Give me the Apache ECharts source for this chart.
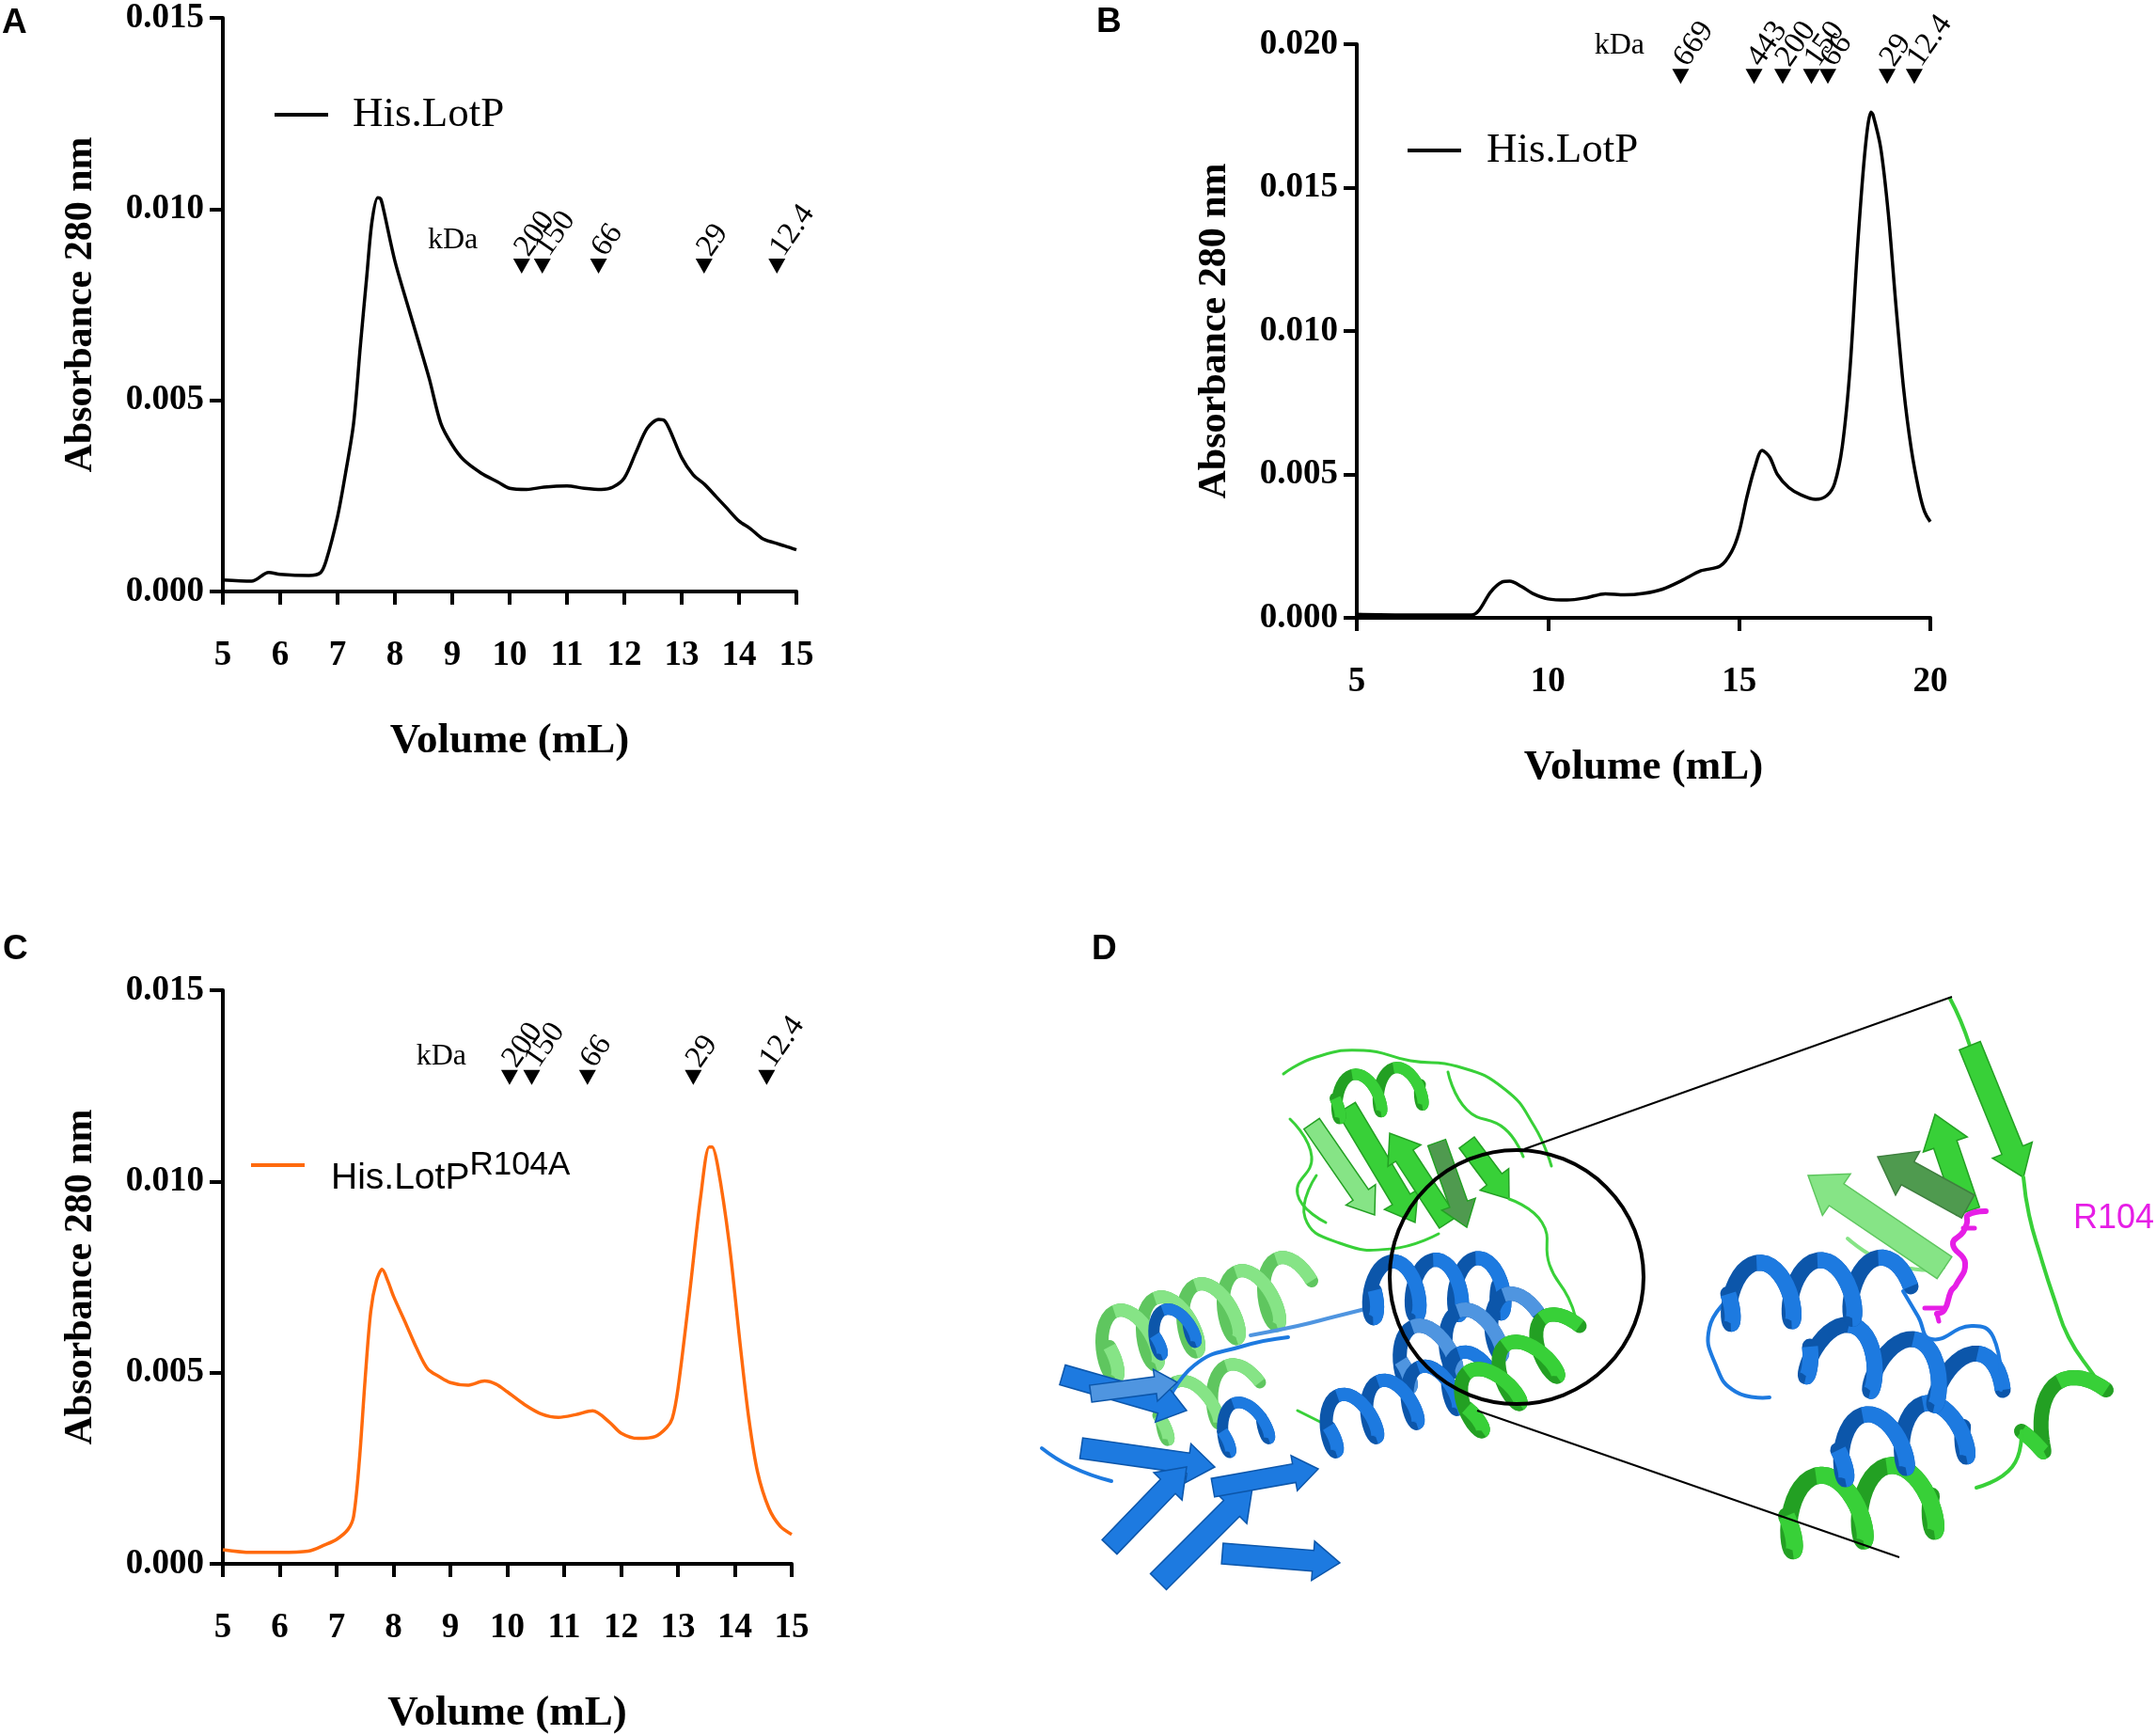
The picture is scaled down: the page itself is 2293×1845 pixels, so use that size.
<!DOCTYPE html>
<html>
<head>
<meta charset="utf-8">
<script src="https://cdn.jsdelivr.net/npm/echarts/dist/echarts.min.js"></script>
<style>
html,body{margin:0;padding:0;background:#fff;}
#container{width:2293px;height:1845px;}
</style>
</head>
<body>
<div id="container"></div>
<script>
// ---- panel A : His.LotP, column 1 ----
var volA = [5.0,5.5,5.8,6.0,6.5,6.7,6.8,7.0,7.14,7.28,7.4,7.51,7.6,7.7,7.75,7.8,8.0,8.2,8.4,8.6,8.8,9.0,9.2,9.5,9.8,10.0,10.3,10.6,11.0,11.3,11.6,11.8,12.0,12.2,12.4,12.6,12.7,12.8,13.0,13.2,13.4,13.6,13.8,14.0,14.2,14.4,14.6,14.8,15.0];
var absA = [0.0003,0.00027,0.0005,0.00045,0.00042,0.00049,0.0008,0.00196,0.0031,0.0044,0.00646,0.00825,0.00967,0.0103,0.01027,0.0100,0.00864,0.0076,0.00659,0.00556,0.0044,0.00383,0.00344,0.0031,0.00286,0.0027,0.00267,0.00273,0.00276,0.0027,0.00267,0.00273,0.00297,0.00363,0.00427,0.0045,0.00447,0.0042,0.0035,0.00305,0.0028,0.00248,0.00216,0.00184,0.00164,0.00139,0.00128,0.00119,0.00109];
var markA = [10.21,10.57,11.55,13.39,14.66];
var kdaA = ['200','150','66','29','12.4'];
var markLevelA = 0.00851;
var kdaPosA = [9.01,0.00918];

// ---- panel B : His.LotP, column 2 ----
var volB = [5,6,7,8,8.2,8.5,8.8,9.0,9.3,9.6,10.0,10.5,11,11.5,12,12.5,13,13.5,14,14.5,14.8,15,15.2,15.4,15.6,15.8,16.0,16.3,16.6,17.0,17.3,17.5,17.7,17.9,18.1,18.3,18.45,18.5,18.7,18.9,19.1,19.3,19.5,19.7,19.85,20.0];
var absB = [0.00012,0.0001,0.0001,0.0001,0.00027,0.0009,0.00125,0.00128,0.0011,0.00085,0.00066,0.00062,0.0007,0.00084,0.0008,0.00085,0.001,0.0013,0.00164,0.0018,0.0023,0.003,0.0042,0.0052,0.00584,0.0056,0.005,0.00454,0.0043,0.00413,0.00427,0.0047,0.006,0.0087,0.013,0.0164,0.01763,0.01754,0.0164,0.0141,0.0109,0.008,0.0059,0.00445,0.0037,0.00335];
var markB = [13.47,15.39,16.14,16.89,17.32,18.87,19.58];
var kdaB = ['669','443','200','150','66','29','12.4'];
var markLevelB = 0.01888;
var kdaPosB = [11.87,0.01995];

// ---- panel C : His.LotP R104A ----
var volC = [5,5.5,6,6.5,6.8,7.0,7.2,7.3,7.4,7.5,7.6,7.7,7.8,7.9,8.0,8.2,8.4,8.6,8.8,9.0,9.3,9.6,9.8,10.0,10.3,10.6,10.9,11.2,11.5,11.8,12.0,12.3,12.6,12.8,12.9,13.0,13.2,13.4,13.55,13.6,13.7,13.9,14.1,14.25,14.4,14.6,14.8,15.0];
var absC = [0.00037,0.0003,0.0003,0.00033,0.0005,0.00064,0.0009,0.00125,0.0027,0.0048,0.0066,0.0074,0.0077,0.0074,0.0070,0.00634,0.00566,0.0051,0.0049,0.00474,0.00467,0.00478,0.0047,0.0045,0.00417,0.00392,0.00383,0.0039,0.004,0.0037,0.00342,0.00328,0.00333,0.00356,0.0038,0.00457,0.007,0.0096,0.0109,0.0109,0.0104,0.0084,0.00566,0.00376,0.0024,0.00145,0.00098,0.00077];
var markC = [10.04,10.43,11.41,13.27,14.56];
var kdaC = ['200','150','66','29','12.4'];
var markLevelC = 0.01272;
var kdaPosC = [8.84,0.01326];

var serif = 'Liberation Serif';
var sans = 'Liberation Sans';
var orange = '#ff6a0d';

function pairs(xs, ys) {
  return xs.map(function (x, i) { return [x, ys[i]]; });
}
function markers(xs, names, level) {
  return xs.map(function (x, i) { return { value: [x, level], name: names[i] }; });
}

function xAx(grid, min, max, interval) {
  return {
    type: 'value', gridIndex: grid, min: min, max: max, interval: interval,
    name: 'Volume (mL)', nameLocation: 'middle', nameGap: 137,
    nameTextStyle: { color: '#000', fontFamily: serif, fontWeight: 'bold', fontSize: 45 },
    axisLine: { show: true, onZero: false, lineStyle: { color: '#000', width: 4 } },
    axisTick: { show: true, length: 14, lineStyle: { color: '#000', width: 4 } },
    axisLabel: { color: '#000', fontFamily: serif, fontWeight: 'bold', fontSize: 37, margin: 50 },
    splitLine: { show: false }
  };
}
function yAx(grid, max) {
  return {
    type: 'value', gridIndex: grid, min: 0, max: max, interval: 0.005,
    name: 'Absorbance 280 nm', nameLocation: 'middle', nameGap: 130, nameRotate: 90,
    nameTextStyle: { color: '#000', fontFamily: serif, fontWeight: 'bold', fontSize: 42 },
    axisLine: { show: true, onZero: false, lineStyle: { color: '#000', width: 4 } },
    axisTick: { show: true, length: 14, lineStyle: { color: '#000', width: 4 } },
    axisLabel: { color: '#000', fontFamily: serif, fontWeight: 'bold', fontSize: 37, margin: 20,
      formatter: function (v) { return v.toFixed(3); } },
    splitLine: { show: false }
  };
}
function curve(name, idx, data, color) {
  return {
    name: name, type: 'line', xAxisIndex: idx, yAxisIndex: idx, data: data,
    showSymbol: false, smooth: 0.3, animation: false,
    lineStyle: { color: color, width: 3.5 }, itemStyle: { color: color }
  };
}
function markSeries(idx, data) {
  return {
    type: 'scatter', xAxisIndex: idx, yAxisIndex: idx, data: data, animation: false,
    symbol: 'triangle', symbolRotate: 180, symbolSize: [18, 16],
    itemStyle: { color: '#000', opacity: 1 },
    label: { show: true, position: 'top', distance: 6, rotate: 55, align: 'left', verticalAlign: 'middle',
      formatter: function (p) { return p.name; },
      fontFamily: serif, fontSize: 33, color: '#000' }
  };
}
function kdaSeries(idx, pos) {
  return {
    type: 'scatter', xAxisIndex: idx, yAxisIndex: idx, data: [pos], symbolSize: 0, animation: false,
    itemStyle: { opacity: 1 },
    label: { show: true, position: 'inside', formatter: 'kDa', fontFamily: serif, fontSize: 32, color: '#000' }
  };
}

// ---- panel D : cartoon helpers (drawn shapes, not data) ----
function helix(p1, p2, turns, amp, lw, cFront, cBack) {
  var dx = p2[0] - p1[0], dy = p2[1] - p1[1], L = Math.sqrt(dx * dx + dy * dy);
  var ux = dx / L, uy = dy / L, nx = -uy, ny = ux;
  var n = Math.round(turns * 30), pts = [], cs = [];
  for (var i = 0; i <= n; i++) {
    var th = i / n * turns * 2 * Math.PI;
    var s = i / n * L + amp * 0.45 * Math.cos(th) - amp * 0.45;
    var off = amp * Math.sin(th);
    pts.push([p1[0] + ux * s + nx * off, p1[1] + uy * s + ny * off]);
    cs.push(Math.cos(th));
  }
  var els = [{ type: 'polyline', shape: { points: pts },
    style: { stroke: cBack, lineWidth: lw, fill: null, lineJoin: 'round', lineCap: 'round' } }];
  var seg = [];
  for (i = 0; i < pts.length; i++) {
    if (cs[i] > -0.15) { seg.push(pts[i]); }
    else {
      if (seg.length > 1) els.push({ type: 'polyline', shape: { points: seg },
        style: { stroke: cFront, lineWidth: lw, fill: null, lineJoin: 'round', lineCap: 'butt' } });
      seg = [];
    }
  }
  if (seg.length > 1) els.push({ type: 'polyline', shape: { points: seg },
    style: { stroke: cFront, lineWidth: lw, fill: null, lineJoin: 'round', lineCap: 'butt' } });
  return els;
}
function strand(p1, p2, w, c, edge) {
  var dx = p2[0] - p1[0], dy = p2[1] - p1[1], L = Math.sqrt(dx * dx + dy * dy);
  var ux = dx / L, uy = dy / L, nx = -uy, ny = ux;
  var hl = w * 1.3, hw = w * 0.95;
  var b = [p2[0] - ux * hl, p2[1] - uy * hl];
  var pts = [
    [p1[0] + nx * w / 2, p1[1] + ny * w / 2],
    [b[0] + nx * w / 2, b[1] + ny * w / 2],
    [b[0] + nx * hw, b[1] + ny * hw],
    [p2[0], p2[1]],
    [b[0] - nx * hw, b[1] - ny * hw],
    [b[0] - nx * w / 2, b[1] - ny * w / 2],
    [p1[0] - nx * w / 2, p1[1] - ny * w / 2]
  ];
  return { type: 'polygon', shape: { points: pts }, style: { fill: c, stroke: edge || c, lineWidth: 1.5 } };
}
function loop(pts, c, lw) {
  return { type: 'polyline', shape: { points: pts, smooth: 0.5 },
    style: { stroke: c, lineWidth: lw || 4, fill: null, lineCap: 'round', lineJoin: 'round' } };
}

var gF = '#38d038', gB = '#23a023', gL = '#86e486', gD = '#4f9a4f';
var bF = '#1d7ae0', bB = '#0c56aa', bL = '#4f95e0';

var cartoon = [];
function add(x) { cartoon = cartoon.concat(x); }

// left overview: green top domain
add(loop([[1365,1142],[1400,1124],[1450,1117],[1500,1128],[1550,1134],[1600,1158],[1632,1198],[1650,1240]], gF, 3));
add(loop([[1400,1250],[1388,1295],[1425,1322],[1480,1328],[1530,1312]], gF, 3));
add(loop([[1372,1190],[1395,1230],[1380,1270],[1410,1300]], gF, 3));
add(loop([[1540,1140],[1560,1180],[1600,1200],[1620,1230]], gF, 3));
add(strand([1395,1195], [1462,1292], 20, gL, gB));
add(strand([1432,1178], [1505,1300], 22, gF, gB));
add(strand([1540,1300], [1478,1205], 22, gF, gB));
add(strand([1528,1215], [1560,1305], 20, gD, gB));
add(strand([1560,1215], [1605,1275], 20, gF, gB));
add(helix([1420,1168], [1530,1150], 2.5, 22, 12, gF, gB));
add(loop([[1605,1275],[1640,1300],[1648,1345],[1668,1380],[1676,1402]], gF, 3));
// green helices under the blue domain
add(helix([1180,1432], [1395,1362], 5, 34, 14, gL, '#5fc65f'));
add(helix([1232,1505], [1340,1470], 2, 28, 13, gL, '#5fc65f'));
// blue bottom-left domain
add(loop([[1108,1540],[1140,1560],[1182,1575]], bF, 4));
add(loop([[1240,1495],[1270,1452],[1320,1432],[1370,1422]], bF, 4));
add(loop([[1330,1420],[1380,1410],[1420,1400],[1452,1392]], bL, 4));
add(strand([1130,1462], [1262,1500], 22, bF, bB));
add(strand([1150,1540], [1292,1560], 22, bF, bB));
add(strand([1180,1645], [1262,1560], 22, bF, bB));
add(strand([1232,1682], [1332,1582], 24, bF, bB));
add(strand([1300,1652], [1425,1662], 22, bF, bB));
add(strand([1290,1582], [1402,1562], 20, bF, bB));
add(strand([1160,1482], [1252,1470], 18, bL, bB));
add(helix([1228,1420], [1282,1400], 1.5, 22, 12, bF, bB));
add(helix([1300,1522], [1362,1500], 1.5, 24, 12, bF, bB));
// middle helices
add(helix([1462,1372], [1620,1366], 3.5, 30, 15, bF, bB));
add(helix([1490,1447], [1636,1396], 3, 30, 15, bL, bB));
add(loop([[1380,1500],[1400,1510],[1420,1520]], gF, 3));
add(helix([1413,1517], [1585,1457], 4, 28, 14, bF, bB));
add(helix([1560,1497], [1680,1410], 3, 30, 15, gF, gB));

// right zoomed view
add(loop([[2074,1062],[2085,1085],[2095,1112]], gF, 4));
add(strand([2095,1112], [2152,1252], 24, gF, gB));
add(strand([2093,1288], [2058,1185], 26, gF, gB));
add(strand([2093,1283], [1997,1230], 28, gD, '#3f7f3f'));
add(loop([[1965,1317],[2000,1340],[2040,1350],[2067,1348]], gL, 4));
add(strand([2068,1348], [1923,1250], 28, gL, '#5fc65f'));
add(loop([[2152,1252],[2158,1292],[2170,1335],[2185,1382],[2200,1422],[2225,1460],[2240,1480]], gF, 4));
add(helix([2150,1522], [2240,1478], 1, 30, 16, gF, gB));
add(loop([[2150,1522],[2140,1560],[2102,1582]], gF, 4));
add(helix([1900,1612], [2088,1586], 2.5, 38, 18, gF, gB));
add(loop([[1840,1380],[1818,1412],[1825,1452],[1846,1480],[1882,1486]], bF, 4));
add(helix([1955,1542], [2116,1512], 2.5, 32, 17, bF, bB));
add(helix([1925,1432], [2130,1478], 3, 32, 17, bF, bB));
add(helix([1838,1376], [2032,1368], 3, 32, 17, bF, bB));
add(loop([[2024,1373],[2040,1400],[2054,1424],[2097,1410],[2120,1422],[2128,1478]], bF, 4));
// R104 side chain
add(loop([[2112,1288],[2093,1292],[2092,1300],[2088,1310],[2077,1323],[2090,1343],[2080,1367],[2075,1373],[2068,1393],[2060,1397]], '#e61ee6', 6));
add(loop([[2088,1306],[2100,1306]], '#e61ee6', 5));
add(loop([[2047,1391],[2067,1391]], '#e61ee6', 5));
add(loop([[2060,1397],[2062,1405]], '#e61ee6', 5));
// zoom circle and lines
add([
  { type: 'circle', shape: { cx: 1613, cy: 1358, r: 135 }, style: { fill: null, stroke: '#000', lineWidth: 4 } },
  { type: 'line', shape: { x1: 1621, y1: 1222, x2: 2076, y2: 1060 }, style: { stroke: '#000', lineWidth: 2 } },
  { type: 'line', shape: { x1: 1571, y1: 1500, x2: 2020, y2: 1656 }, style: { stroke: '#000', lineWidth: 2 } },
  { type: 'text', x: 2205, y: 1296, style: { text: 'R104', fill: '#e61ee6', font: '36px "Liberation Sans"', textVerticalAlign: 'middle', verticalAlign: 'middle' } }
]);

function letter(t, x, y) {
  return { type: 'text', x: x, y: y, style: { text: t, fill: '#000', font: 'bold 37px "Liberation Sans"', textVerticalAlign: 'middle', verticalAlign: 'middle' } };
}

var dom = document.getElementById('container');
var myChart = echarts.init(dom);
var option = {
  backgroundColor: '#fff',
  animation: false,
  grid: [
    { left: 237, top: 19, width: 610, height: 610, containLabel: false, outerBoundsMode: 'none' },
    { left: 1443, top: 47, width: 610, height: 610, containLabel: false, outerBoundsMode: 'none' },
    { left: 237, top: 1053, width: 605, height: 610, containLabel: false, outerBoundsMode: 'none' }
  ],
  xAxis: [xAx(0, 5, 15, 1), xAx(1, 5, 20, 5), xAx(2, 5, 15, 1)],
  yAxis: [yAx(0, 0.015), yAx(1, 0.020), yAx(2, 0.015)],
  legend: [
    { data: ['His.LotP'], left: 287, top: 92, icon: 'rect', itemWidth: 57, itemHeight: 4,
      textStyle: { fontFamily: serif, fontSize: 45, lineHeight: 50, color: '#000', padding: [0, 0, 0, 21] } },
    { data: ['His.LotP'], left: 1492, top: 130, icon: 'rect', itemWidth: 57, itemHeight: 4,
      textStyle: { fontFamily: serif, fontSize: 45, lineHeight: 50, color: '#000', padding: [0, 0, 0, 22] } },
    { data: ['His.LotPR104A'], left: 262, top: 1217, icon: 'rect', itemWidth: 57, itemHeight: 4,
      formatter: function () { return '{a|His.LotP}{b|R104A}'; },
      textStyle: { color: '#000', padding: [28, 0, 0, 23],
        rich: { a: { fontFamily: sans, fontSize: 39, lineHeight: 62, color: '#000' },
                b: { fontFamily: sans, fontSize: 35, lineHeight: 1, verticalAlign: 'top', color: '#000' } } } }
  ],
  series: [
    curve('His.LotP', 0, pairs(volA, absA), '#000'),
    markSeries(0, markers(markA, kdaA, markLevelA)),
    kdaSeries(0, kdaPosA),
    curve('His.LotP', 1, pairs(volB, absB), '#000'),
    markSeries(1, markers(markB, kdaB, markLevelB)),
    kdaSeries(1, kdaPosB),
    curve('His.LotPR104A', 2, pairs(volC, absC), orange),
    markSeries(2, markers(markC, kdaC, markLevelC)),
    kdaSeries(2, kdaPosC)
  ],
  graphic: [letter('A', 2, 25), letter('B', 1166, 24), letter('C', 3, 1010), letter('D', 1161, 1010)].concat(cartoon)
};
myChart.setOption(option);
</script>
</body>
</html>
